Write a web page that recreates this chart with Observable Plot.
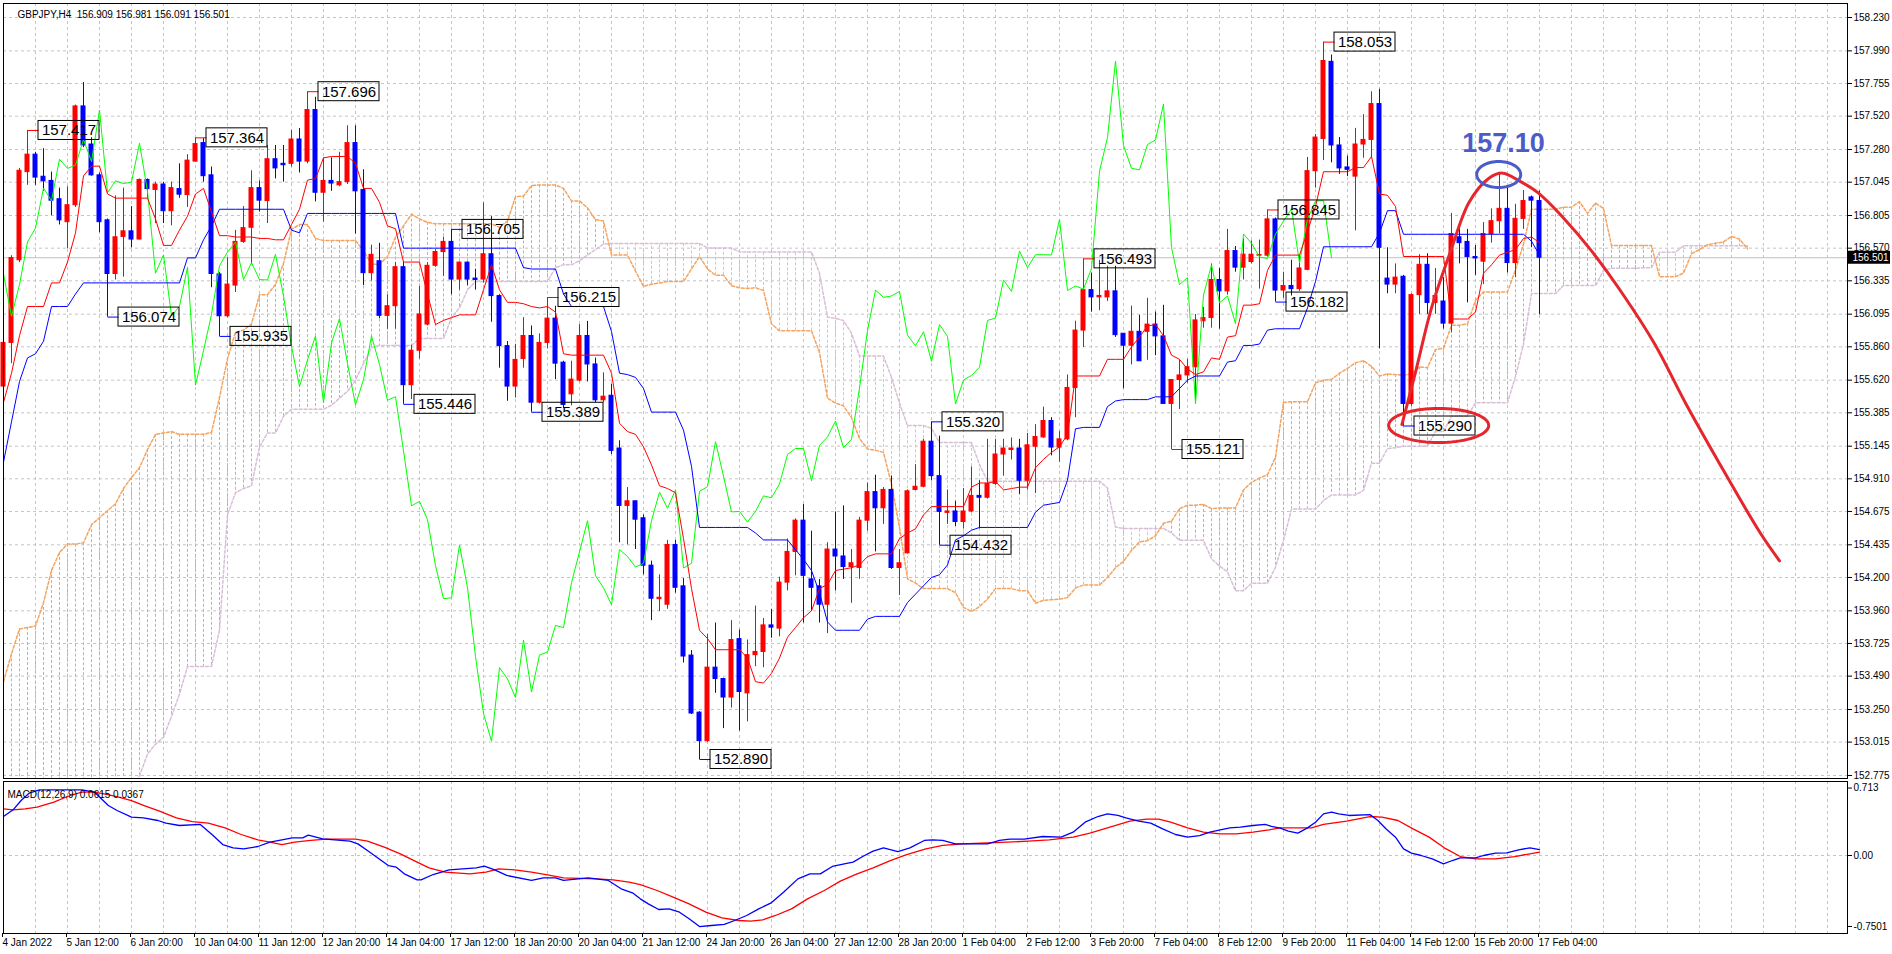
<!DOCTYPE html>
<html><head><meta charset="utf-8">
<script src="https://cdn.jsdelivr.net/npm/d3@7"></script>
<script src="https://cdn.jsdelivr.net/npm/@observablehq/plot@0.6"></script>
<style>
html,body{margin:0;padding:0;background:#fff;}
#chart{position:relative;width:1892px;height:954px;overflow:hidden;background:#fff;}
#chart svg{position:absolute;left:0;}
</style></head><body><div id="chart"></div>
<script>
// ---------- DATA ----------
const symbolLabel = "GBPJPY,H4";
const macdLabel = "MACD(12,26,9) 0.0615 0.0367";

const opens = [155.574,155.888,156.483,157.117,157.243,157.084,157.054,156.922,156.757,156.879,
157.590,157.316,157.094,156.770,156.384,156.651,156.691,156.632,157.061,156.989,
157.028,156.836,156.995,156.952,157.193,157.326,157.094,156.381,156.080,156.301,
156.615,156.717,157.002,156.909,157.210,157.177,157.177,157.352,157.193,157.564,
156.969,157.054,157.022,157.045,157.326,156.989,156.390,156.476,156.083,156.152,
156.433,155.584,155.832,156.020,156.443,156.542,156.615,156.344,156.466,156.351,
156.344,156.526,156.225,155.865,155.574,155.772,155.938,155.458,155.888,156.063,
155.746,155.518,155.617,155.938,155.733,155.475,155.508,155.128,154.715,154.748,
154.626,154.285,154.044,154.004,154.434,154.136,153.638,153.227,153.022,153.551,
153.469,153.336,153.756,153.366,153.641,153.664,153.855,153.832,154.163,154.384,
154.609,154.186,154.136,154.004,154.401,154.351,154.275,154.268,154.609,154.814,
154.698,154.830,154.268,154.374,154.830,154.853,155.177,154.929,154.665,154.675,
154.599,154.675,154.787,154.774,154.873,155.085,155.118,155.128,154.896,155.141,
155.208,155.326,155.135,155.194,155.564,155.977,156.268,156.216,156.216,156.259,
155.954,155.868,155.968,155.968,156.020,155.935,155.449,155.621,155.654,155.713,
156.044,156.067,156.341,156.259,156.549,156.430,156.470,156.516,156.516,156.777,
156.265,156.298,156.275,156.414,157.124,157.356,157.911,157.309,157.151,157.085,
157.316,157.349,157.607,156.351,156.308,156.364,155.449,156.232,156.450,156.176,
156.186,156.027,156.648,156.615,156.506,156.473,156.672,156.764,156.853,156.463,
156.781,156.935,156.909];

const highs = [155.987,156.516,157.144,157.417,157.260,157.286,157.117,157.002,157.012,157.600,
157.762,157.365,157.111,156.780,156.946,157.002,156.869,157.068,157.068,157.045,
157.045,157.045,157.177,157.243,157.364,157.359,157.154,156.394,156.499,156.698,
156.869,157.127,157.054,157.309,157.309,157.309,157.418,157.431,157.696,157.656,
157.220,157.220,157.260,157.451,157.451,157.134,156.592,156.605,156.235,156.466,
156.466,155.871,156.294,156.466,156.559,156.648,156.705,156.470,156.470,156.417,
156.896,156.797,156.235,155.898,155.878,156.070,156.010,155.954,156.215,156.152,
155.756,155.756,156.020,156.043,155.779,155.673,155.590,155.184,154.847,154.750,
154.649,154.318,154.219,154.467,154.467,154.192,153.674,153.234,153.790,153.872,
153.475,153.889,153.822,153.750,153.994,153.905,153.971,154.202,154.477,154.622,
154.725,154.533,154.186,154.450,154.672,154.715,154.401,154.632,154.880,154.936,
154.847,154.930,154.401,154.830,155.012,155.194,155.320,155.217,154.830,154.748,
154.840,154.996,154.896,155.194,155.194,155.194,155.204,155.194,155.237,155.300,
155.426,155.350,155.250,155.657,156.044,156.493,156.391,156.483,156.440,156.440,
155.954,156.153,156.087,156.209,156.110,156.159,155.621,155.763,155.769,156.093,
156.143,156.457,156.424,156.705,156.582,156.638,156.622,156.628,156.845,156.787,
156.397,156.483,156.516,157.223,157.389,158.053,157.960,157.366,157.233,157.432,
157.531,157.696,157.713,156.573,156.457,156.374,156.242,156.523,156.530,156.424,
156.358,156.820,156.754,156.705,156.589,156.754,156.853,157.101,157.002,156.886,
156.985,156.945,156.981];

const lows = [155.475,155.739,156.466,157.022,157.022,156.979,156.803,156.737,156.565,156.863,
157.293,157.088,156.681,156.074,156.341,156.361,156.572,156.630,156.929,156.747,
156.747,156.731,156.929,156.863,157.190,157.045,156.285,155.935,156.070,156.251,
156.605,156.450,156.830,156.747,157.068,157.045,157.154,157.111,157.177,156.903,
156.757,156.979,157.012,157.028,156.671,156.301,156.334,156.063,155.987,155.987,
155.446,155.481,155.772,156.010,156.433,156.367,156.235,156.268,156.301,156.268,
156.318,156.037,155.706,155.468,155.491,155.706,155.389,155.448,155.845,155.624,
155.415,155.435,155.607,155.607,155.458,155.458,155.085,154.450,154.434,154.401,
154.219,153.889,153.955,153.971,154.087,153.584,153.214,152.890,153.013,153.366,
153.112,153.260,153.095,153.161,153.558,153.551,153.763,153.773,154.103,154.212,
153.872,153.955,153.872,153.796,154.103,154.186,154.014,154.186,154.533,154.384,
154.582,154.258,154.070,154.368,154.824,154.847,154.896,154.432,154.582,154.566,
154.549,154.665,154.549,154.764,154.863,154.929,155.045,154.797,154.830,154.804,
155.201,155.075,155.029,155.184,155.350,155.855,156.110,156.120,156.186,155.928,
155.558,155.730,155.756,155.763,155.796,155.449,155.121,155.409,155.597,155.449,
155.994,155.994,155.987,156.232,156.397,156.341,156.457,156.275,156.506,156.182,
156.209,156.226,156.259,156.407,157.002,157.200,157.184,157.101,157.085,156.695,
157.217,157.217,155.845,156.242,156.242,155.290,155.432,156.093,156.093,156.093,
155.987,155.961,156.457,156.176,156.374,156.308,156.606,156.672,156.391,156.358,
156.705,156.573,156.091];

const closes = [155.888,156.499,157.127,157.243,157.078,157.051,156.912,156.770,156.879,157.590,
157.309,157.094,156.757,156.384,156.648,156.691,156.632,157.061,156.995,157.028,
156.836,157.002,156.955,157.200,157.319,157.088,156.384,156.080,156.308,156.615,
156.714,157.002,156.912,157.210,157.144,157.167,157.352,157.193,157.564,156.969,
157.054,157.035,157.045,157.326,156.979,156.390,156.522,156.083,156.152,156.433,
155.584,155.832,156.093,156.443,156.542,156.615,156.344,156.466,156.344,156.341,
156.526,156.225,155.865,155.574,155.766,155.938,155.458,155.888,156.063,155.739,
155.442,155.624,155.938,155.733,155.475,155.501,155.111,154.715,154.748,154.616,
154.285,154.047,154.054,154.434,154.126,153.631,153.221,153.022,153.551,153.469,
153.336,153.750,153.376,153.641,153.664,153.855,153.839,154.163,154.384,154.609,
154.212,154.126,154.004,154.401,154.351,154.275,154.302,154.609,154.814,154.698,
154.830,154.268,154.302,154.820,154.853,155.177,154.929,154.672,154.675,154.599,
154.675,154.787,154.774,154.873,155.085,155.128,155.128,154.896,155.151,155.211,
155.326,155.135,155.194,155.564,155.977,156.268,156.216,156.226,156.259,155.944,
155.868,155.968,155.756,156.020,155.935,155.449,155.621,155.654,155.713,156.050,
156.067,156.341,156.259,156.549,156.430,156.523,156.523,156.521,156.777,156.265,
156.298,156.275,156.424,157.124,157.366,157.917,157.309,157.144,157.134,157.316,
157.349,157.607,156.573,156.308,156.358,155.449,156.232,156.450,156.176,156.226,
156.027,156.672,156.606,156.506,156.496,156.672,156.764,156.853,156.463,156.781,
156.909,156.912,156.501];

const tenkan = [155.46,155.67,155.94,156.15,156.15,156.15,156.32,156.32,156.47,156.68,
157.09,157.16,157.16,156.96,156.93,156.93,156.93,156.93,156.93,156.78,
156.59,156.59,156.70,156.80,156.96,157.00,156.83,156.66,156.66,156.65,
156.65,156.65,156.64,156.64,156.63,156.63,156.74,156.85,157.06,157.07,
157.22,157.23,157.23,157.23,157.18,157.00,157.00,156.90,156.73,156.71,
156.47,156.47,156.47,156.24,156.02,156.05,156.07,156.09,156.09,156.09,
156.27,156.45,156.27,156.18,156.18,156.17,156.15,156.14,156.15,156.11,
155.81,155.80,155.80,155.80,155.80,155.80,155.67,155.31,155.25,155.23,
155.14,155.01,154.86,154.84,154.81,154.48,154.12,153.82,153.76,153.68,
153.68,153.68,153.68,153.62,153.45,153.44,153.51,153.62,153.77,153.84,
153.91,153.96,154.12,154.15,154.25,154.26,154.27,154.29,154.35,154.37,
154.37,154.37,154.48,154.52,154.55,154.65,154.71,154.71,154.71,154.71,
154.71,154.85,154.88,154.88,154.89,154.83,154.84,154.85,154.85,154.99,
155.05,155.10,155.14,155.23,155.65,155.65,155.65,155.65,155.77,155.77,
155.77,155.86,155.93,156.01,156.02,155.94,155.80,155.77,155.70,155.66,
155.68,155.78,155.77,155.93,155.94,156.16,156.16,156.17,156.41,156.52,
156.52,156.52,156.52,156.69,156.87,157.12,157.12,157.12,157.12,157.15,
157.15,157.23,156.96,156.95,156.87,156.51,156.51,156.51,156.51,156.51,
156.51,156.06,156.06,156.06,156.11,156.39,156.45,156.52,156.54,156.56,
156.64,156.65,156.61];

const kijun = [155.03,155.32,155.61,155.78,155.81,155.90,156.15,156.15,156.15,156.24,
156.32,156.32,156.32,156.32,156.32,156.32,156.32,156.32,156.32,156.32,
156.32,156.32,156.32,156.50,156.50,156.63,156.73,156.85,156.85,156.85,
156.85,156.85,156.85,156.85,156.85,156.85,156.70,156.68,156.82,156.82,
156.82,156.82,156.82,156.82,156.82,156.82,156.82,156.82,156.82,156.82,
156.57,156.57,156.57,156.57,156.57,156.57,156.57,156.57,156.57,156.57,
156.57,156.57,156.57,156.57,156.57,156.43,156.42,156.42,156.42,156.42,
156.24,156.15,156.15,156.15,156.15,156.15,155.97,155.67,155.66,155.64,
155.56,155.39,155.39,155.39,155.39,155.26,155.00,154.56,154.56,154.56,
154.56,154.56,154.56,154.56,154.52,154.47,154.47,154.47,154.47,154.40,
154.33,154.25,154.09,153.88,153.82,153.82,153.82,153.82,153.90,153.92,
153.92,153.92,153.92,154.02,154.08,154.14,154.20,154.22,154.29,154.47,
154.50,154.54,154.56,154.56,154.56,154.56,154.56,154.56,154.56,154.67,
154.72,154.73,154.74,154.90,155.27,155.28,155.28,155.28,155.43,155.47,
155.48,155.48,155.48,155.48,155.50,155.50,155.50,155.56,155.62,155.65,
155.65,155.65,155.65,155.75,155.76,155.87,155.87,155.88,155.98,155.99,
155.99,155.99,155.99,156.14,156.33,156.58,156.58,156.58,156.58,156.58,
156.58,156.58,156.68,156.84,156.84,156.67,156.67,156.67,156.67,156.67,
156.67,156.67,156.67,156.67,156.67,156.67,156.67,156.67,156.67,156.67,
156.67,156.62,156.52];

const senkouA = [153.45,153.65,153.83,153.84,153.85,154.02,154.25,154.38,154.44,154.44,
154.45,154.58,154.63,154.68,154.73,154.84,154.92,154.99,155.12,155.23,
155.24,155.25,155.23,155.23,155.23,155.23,155.245,155.495,155.775,155.965,
155.98,156.025,156.235,156.235,156.31,156.46,156.705,156.74,156.74,156.64,
156.625,156.625,156.625,156.625,156.625,156.55,156.455,156.455,156.51,156.65,
156.73,156.815,156.78,156.755,156.745,156.745,156.745,156.745,156.745,156.745,
156.745,156.745,156.72,156.765,156.94,156.945,157.02,157.025,157.025,157.025,
157.0,156.91,156.91,156.86,156.775,156.765,156.52,156.52,156.52,156.405,
156.295,156.31,156.32,156.33,156.33,156.33,156.42,156.51,156.42,156.375,
156.375,156.30,156.285,156.28,156.285,156.265,156.025,155.975,155.975,155.975,
155.975,155.975,155.82,155.49,155.455,155.435,155.35,155.20,155.125,155.115,
155.10,154.87,154.56,154.19,154.16,154.12,154.12,154.12,154.12,154.09,
153.985,153.955,153.99,154.045,154.12,154.12,154.12,154.105,154.105,154.015,
154.035,154.04,154.045,154.055,154.125,154.145,154.145,154.145,154.20,154.27,
154.315,154.395,154.455,154.465,154.50,154.59,154.605,154.695,154.72,154.72,
154.725,154.695,154.70,154.70,154.70,154.83,154.885,154.915,154.94,155.065,
155.46,155.465,155.465,155.465,155.60,155.62,155.625,155.67,155.705,155.745,
155.76,155.72,155.65,155.665,155.66,155.655,155.665,155.715,155.71,155.84,
155.85,156.015,156.015,156.025,156.195,156.255,156.255,156.255,156.255,156.415,
156.60,156.85,156.85,156.85,156.85,156.865,156.865,156.905,156.82,156.895,
156.855,156.59,156.59,156.59,156.59,156.59,156.59,156.365,156.365,156.365,
156.39,156.53,156.56,156.595,156.605,156.615,156.655,156.635,156.565];

const senkouB = [152.40,152.40,152.40,152.40,152.40,152.40,152.40,152.40,152.40,152.40,
152.40,152.40,152.40,152.40,152.45,152.55,152.65,152.77,152.93,153.00,
153.05,153.20,153.36,153.56,153.56,153.56,153.56,153.82,154.65,154.81,
154.84,154.86,155.14,155.24,155.24,155.36,155.41,155.41,155.41,155.41,
155.41,155.44,155.49,155.54,155.62,155.74,155.855,155.87,155.87,155.87,
155.87,155.87,155.92,155.92,155.92,155.92,156.07,156.14,156.27,156.33,
156.33,156.33,156.33,156.33,156.33,156.33,156.33,156.33,156.33,156.43,
156.45,156.45,156.48,156.52,156.56,156.60,156.604,156.604,156.604,156.604,
156.604,156.604,156.604,156.604,156.604,156.604,156.604,156.604,156.571,156.571,
156.571,156.571,156.543,156.543,156.543,156.543,156.543,156.543,156.543,156.543,
156.543,156.543,156.39,156.073,156.065,156.049,155.958,155.793,155.793,155.793,
155.793,155.64,155.455,155.293,155.293,155.293,155.273,155.171,155.171,155.171,
155.171,155.171,155.012,154.893,154.893,154.893,154.893,154.893,154.893,154.893,
154.893,154.893,154.893,154.893,154.893,154.893,154.893,154.893,154.844,154.563,
154.553,154.553,154.553,154.553,154.553,154.553,154.521,154.467,154.467,154.467,
154.467,154.335,154.282,154.24,154.105,154.105,154.158,154.158,154.158,154.274,
154.467,154.692,154.692,154.692,154.692,154.753,154.794,154.794,154.794,154.794,
154.827,155.022,155.022,155.128,155.133,155.145,155.145,155.145,155.145,155.251,
155.251,155.36,155.36,155.36,155.458,155.458,155.458,155.458,155.458,155.647,
155.879,156.243,156.243,156.243,156.243,156.301,156.301,156.301,156.301,156.301,
156.409,156.425,156.425,156.425,156.425,156.429,156.429,156.541,156.541,156.541,
156.587,156.587,156.587,156.587,156.587,156.587,156.587,156.587,156.587];

const macdBars = [0,1.2,2.2,3.2,4.5,9.8,11.4,13.1,14.2,16,17.5,19.3,20.3,22,24.6,26.2,27.4,28.7,30,31.8,
33.3,34.8,36.1,37.4,38.1,39.9,43.3,44.3,45.8,47.1,48.1,49.1,50.1,51.7,52.2,53.7,55.7,59.1,60.1,61.4,
62.9,66,67.5,69,70,73.1,75.6,77.2,78.7,79.6,80.6,81.9,83.2,84.5,85.7,87,88.5,90.1,91.4,92.9,
94.4,95.9,97.5,99.3,100.8,102.1,103.6,105.1,106.2,107.4,108.7,110,111.8,113.3,115.1,116.1,117.4,119,123,124.5,
125.8,127.6,129.9,132.2,133.7,135.2,136.8,138,139.3,140.3,141.9,143.4,144.9,146.5,148,149.5,150.8,152.1,153.3,154.6,
156.2,157.7,158.5,159.6,160.6,161.8,163,164,165,166,166.9,168.2,170.8,171.8,172.8,174,175,176,177.2,178.6,
180,181.1,182.1,184,185,186.5,187.9,189.4,190.8,192];
const macdValues = [0.412,0.483,0.581,0.659,0.694,0.694,0.669,0.529,0.476,0.405,0.398,0.370,0.342,0.317,0.328,0.211,0.116,0.081,0.070,0.095,
0.141,0.166,0.187,0.187,0.215,0.176,0.152,0.123,0.035,-0.046,-0.106,-0.123,-0.194,-0.257,-0.257,-0.201,-0.152,-0.130,-0.113,-0.152,
-0.211,-0.264,-0.236,-0.236,-0.264,-0.236,-0.264,-0.352,-0.398,-0.458,-0.511,-0.571,-0.564,-0.599,-0.669,-0.751,-0.740,-0.729,-0.687,-0.634,
-0.564,-0.504,-0.388,-0.247,-0.194,-0.194,-0.116,-0.088,-0.070,-0.011,0.046,0.081,0.042,0.081,0.159,0.166,0.159,0.123,0.123,0.159,
0.173,0.173,0.201,0.194,0.247,0.352,0.412,0.440,0.423,0.398,0.363,0.342,0.282,0.222,0.194,0.211,0.247,0.271,0.292,0.300,
0.317,0.328,0.307,0.290,0.257,0.236,0.292,0.352,0.440,0.458,0.440,0.423,0.433,0.370,0.282,0.194,0.070,0.025,0,-0.035,
-0.088,-0.053,-0.025,-0.025,0,0.025,0.028,0.060,0.081,0.0615];

const signalBars = [0,1.2,2.7,4.2,6.3,8.3,9.8,11.4,12.9,14.4,16,17.5,19.5,21.6,23.6,25.6,27.7,29.7,31.8,33.3,
34.8,36.4,38.4,40.4,44,45.5,47.6,49.6,51.7,53.2,55.2,58.3,60.3,61.9,63.9,66,68,70,74.1,76.2,
78.2,79.6,81.7,83.7,85.7,87.8,89.8,91.9,93.4,94.9,96.5,98.5,100.5,102.6,104.6,106.7,108.7,110.7,112.8,115.3,
117.4,119.9,123,125.5,128.1,130.7,133.7,135.8,138.3,140.8,142.9,144.4,145.9,148,150,152.1,154.1,156.2,158.2,159.6,
161.6,163.5,165,167.9,170.8,172.3,174.3,176.2,178.2,180.1,182.1,184,186.5,188.9,190.8,192];
const signalValues = [0.493,0.483,0.493,0.511,0.564,0.634,0.669,0.669,0.645,0.617,0.581,0.529,0.469,0.398,0.359,0.342,0.292,0.222,0.166,0.141,
0.116,0.141,0.159,0.173,0.173,0.152,0.088,0.018,-0.070,-0.130,-0.176,-0.194,-0.176,-0.141,-0.152,-0.176,-0.204,-0.236,-0.247,-0.257,
-0.282,-0.307,-0.370,-0.440,-0.511,-0.599,-0.659,-0.687,-0.694,-0.680,-0.634,-0.564,-0.458,-0.370,-0.271,-0.194,-0.130,-0.060,0.007,0.070,
0.106,0.123,0.134,0.141,0.152,0.166,0.194,0.236,0.300,0.363,0.384,0.384,0.352,0.292,0.247,0.229,0.229,0.247,0.271,0.292,
0.292,0.292,0.328,0.363,0.412,0.405,0.370,0.282,0.194,0.081,-0.011,-0.035,-0.035,-0.011,0.018,0.0367];

const priceTicks = [158.230,157.990,157.755,157.520,157.280,157.045,156.805,156.570,156.335,156.095,155.860,155.620,
155.385,155.145,154.910,154.675,154.435,154.200,153.960,153.725,153.490,153.250,153.015,152.775];
const macdTicks = [0.713, 0, -0.7501];
const macdTickLabels = ["0.713", "0.00", "-0.7501"];
const dateBars = [0,8,16,24,32,40,48,56,64,72,80,88,96,104,112,120,128,136,144,152,160,168,176,184,192];
const dateLabels = ["4 Jan 2022","5 Jan 12:00","6 Jan 20:00","10 Jan 04:00","11 Jan 12:00","12 Jan 20:00","14 Jan 04:00",
"17 Jan 12:00","18 Jan 20:00","20 Jan 04:00","21 Jan 12:00","24 Jan 20:00","26 Jan 04:00","27 Jan 12:00","28 Jan 20:00",
"1 Feb 04:00","2 Feb 12:00","3 Feb 20:00","7 Feb 04:00","8 Feb 12:00","9 Feb 20:00","11 Feb 04:00","14 Feb 12:00",
"15 Feb 20:00","17 Feb 04:00"];

// swing-point price labels: bar index and whether the label marks the high or the low
const swingBars  = [3,24,38,13,27,50,56,68,66,87,116,117,135,146,158,159,165,175];
const swingKinds = ["high","high","high","low","low","low","high","high","low","low","high","low","high","low","high","low","high","low"];

// hand-drawn forecast arc (bar, price)
const arcBars   = [174.8,176.6,178.5,180.9,183.2,185.6,187.4,189.3,191.8,194.8,198.5,202.4,206.4,210.3,214.3,219.6,222];
const arcPrices = [155.30,155.70,156.14,156.55,156.90,157.07,157.11,157.06,156.97,156.80,156.55,156.24,155.88,155.45,155.04,154.52,154.32];
// ellipses: centre bar, centre price, radii in pixels
const ellipseBars   = [186.9, 179.4];
const ellipsePrices = [157.10, 155.294];
const ellipseRx     = [22, 50];
const ellipseRy     = [13, 17];
const ellipseColors = ["#4b5cc8", "#e5262c"];
const targetText = "157.10";
const targetBar = 187.5, targetPrice = 157.323;

// ---------- LAYOUT ----------
const W = 1892;
const FONT = "'Liberation Sans', Arial, sans-serif";
const UP = "#ff0000", DOWN = "#0000ff";
const SANDY = "#f4a460", THISTLE = "#d8bfd8";
const GRID = "#c4c4c4";
const xDomain = [0, 230.5];
const yDomain = [152.7532, 158.3308];
const mL = 3, mR = 45, mainH = 780, mT = 3, mB = 2;
const pxPerBar = (W - mL - mR) / (xDomain[1] - xDomain[0]);
const pxPerPrice = (mainH - mT - mB) / (yDomain[1] - yDomain[0]);
const gridBars = d3.range(0, 229, 4);
const fmt3 = d3.format(".3f");

const N = closes.length;
const candles = d3.range(N).map(i => ({i, o: opens[i], h: highs[i], l: lows[i], c: closes[i], up: closes[i] >= opens[i]}));
const cloud = senkouA.map((a, i) => ({i, a, b: senkouB[i]}));
const chikou = closes.slice(26).map((c, k) => ({i: k, v: c}));
const tenkanData = tenkan.map((v, i) => ({i, v}));
const kijunData = kijun.map((v, i) => ({i, v}));
const swings = swingBars.map((b, k) => {
  const c = candles[b];
  const price = swingKinds[k] === "high" ? c.h : c.l;
  return {bar: b, price, color: c.up ? UP : DOWN};
});
const boxOff = 11 / pxPerBar, boxW = 61 / pxPerBar, boxH = 9.5 / pxPerPrice;
const arc = arcBars.map((b, k) => ({bar: b, price: arcPrices[k]}));
const ellipses = ellipseBars.map((b, k) => d3.range(0, 361, 5).map(t => ({
  k, color: ellipseColors[k],
  bar: b + ellipseRx[k] / pxPerBar * Math.cos(t * Math.PI / 180),
  price: ellipsePrices[k] + ellipseRy[k] / pxPerPrice * Math.sin(t * Math.PI / 180)
}))).flat();
const last = N - 1;
const bid = closes[last];
const header = symbolLabel + "\u00a0\u00a0" + [opens[last], highs[last], lows[last], closes[last]].map(fmt3).join(" ");
const bidX1 = xDomain[1] + 1 / pxPerBar, bidX2 = xDomain[1] + 43 / pxPerBar, bidH = 6.5 / pxPerPrice;

const main = Plot.plot({
  width: W, height: mainH,
  marginLeft: mL, marginRight: mR, marginTop: mT, marginBottom: mB,
  x: {domain: xDomain, axis: null, label: null},
  y: {domain: yDomain, label: null},
  style: {fontFamily: FONT, fontSize: "10px", background: "white", color: "black"},
  marks: [
    Plot.gridY({ticks: priceTicks, stroke: GRID, strokeOpacity: 1, strokeDasharray: "3,3"}),
    Plot.gridX({ticks: gridBars, stroke: GRID, strokeOpacity: 1, strokeDasharray: "3,3"}),
    Plot.ruleX(cloud, {x: "i", y1: "a", y2: "b", stroke: d => d.a >= d.b ? SANDY : THISTLE, strokeDasharray: "3,2", clip: true}),
    Plot.line(cloud, {x: "i", y: "b", stroke: THISTLE, strokeDasharray: "3,2", clip: true}),
    Plot.line(cloud, {x: "i", y: "a", stroke: SANDY, strokeDasharray: "3,2", clip: true}),
    Plot.ruleY([bid], {stroke: "#c0c0c0"}),
    Plot.ruleX(candles, {x: "i", y1: "l", y2: "h", stroke: d => d.up ? UP : DOWN}),
    Plot.rect(candles, {x1: d => d.i - 0.25, x2: d => d.i + 0.25, y1: "o", y2: "c",
      fill: d => d.up ? UP : DOWN, stroke: d => d.up ? UP : DOWN, strokeWidth: 1}),
    Plot.line(chikou, {x: "i", y: "v", stroke: "#00ff00", strokeWidth: 1}),
    Plot.line(kijunData, {x: "i", y: "v", stroke: "#0000ff", strokeWidth: 1}),
    Plot.line(tenkanData, {x: "i", y: "v", stroke: "#ff0000", strokeWidth: 1}),
    Plot.link(swings, {x1: "bar", x2: d => d.bar + boxOff, y1: "price", y2: "price", stroke: "color"}),
    Plot.rect(swings, {x1: d => d.bar + boxOff, x2: d => d.bar + boxOff + boxW, y1: d => d.price - boxH, y2: d => d.price + boxH,
      fill: "none", stroke: "black", strokeWidth: 1}),
    Plot.text(swings, {x: d => d.bar + boxOff + boxW / 2, y: "price", text: d => fmt3(d.price), fontSize: 15, fill: "black"}),
    Plot.line(arc, {x: "bar", y: "price", stroke: "#e5262c", strokeWidth: 3, curve: "catmull-rom"}),
    Plot.line(ellipses, {x: "bar", y: "price", z: "k", stroke: "color", strokeWidth: 3}),
    Plot.text([targetText], {x: targetBar, y: targetPrice, text: d => d, fontSize: 27, fontWeight: "bold", fill: "#4b5cc8"}),
    Plot.text([header], {frameAnchor: "top-left", dx: 14, dy: 7, text: d => d, textAnchor: "start", fontSize: 10, fill: "#000"}),
    Plot.frame({stroke: "black"}),
    Plot.axisY({anchor: "right", ticks: priceTicks, tickFormat: fmt3, tickSize: 4, tickPadding: 2, fontSize: 10, label: null}),
    Plot.rect([bid], {x1: bidX1, x2: bidX2, y1: d => d - bidH, y2: d => d + bidH, fill: "black"}),
    Plot.text([bid], {x: bidX1, y: d => d, dx: 4, text: fmt3, fill: "white", textAnchor: "start", fontSize: 10})
  ]
});
main.style.top = "0px";

const macdMain = macdBars.map((b, k) => ({i: b, v: macdValues[k]}));
const macdSignal = signalBars.map((b, k) => ({i: b, v: signalValues[k]}));
const dateMap = new Map(dateBars.map((b, k) => [b, dateLabels[k]]));
const tickMap = new Map(macdTicks.map((t, k) => [t, macdTickLabels[k]]));

const macdPlot = Plot.plot({
  width: W, height: 174,
  marginLeft: mL, marginRight: mR, marginTop: 1, marginBottom: 21,
  x: {domain: xDomain, label: null},
  y: {domain: [-0.8245, 0.7822], label: null},
  style: {fontFamily: FONT, fontSize: "10px", background: "white", color: "black"},
  marks: [
    Plot.gridY({ticks: [0], stroke: GRID, strokeOpacity: 1, strokeDasharray: "3,3"}),
    Plot.gridX({ticks: gridBars, stroke: GRID, strokeOpacity: 1, strokeDasharray: "3,3"}),
    Plot.line(macdSignal, {x: "i", y: "v", stroke: "#ff0000", strokeWidth: 1.3, clip: true}),
    Plot.line(macdMain, {x: "i", y: "v", stroke: "#0000ff", strokeWidth: 1.3, clip: true}),
    Plot.text([macdLabel], {frameAnchor: "top-left", dx: 4, dy: 9, text: d => d, textAnchor: "start", fontSize: 10, fill: "#000"}),
    Plot.frame({stroke: "black"}),
    Plot.axisY({anchor: "right", ticks: macdTicks, tickFormat: d => tickMap.get(d), tickSize: 4, tickPadding: 2, fontSize: 10, label: null}),
    Plot.axisX({anchor: "bottom", ticks: dateBars, tickFormat: d => dateMap.get(d), tickSize: 4, tickPadding: 1,
      textAnchor: "start", dx: -1, fontSize: 10, label: null})
  ]
});
macdPlot.style.top = "780px";

const host = document.getElementById("chart");
host.appendChild(main);
host.appendChild(macdPlot);
</script></body></html>
